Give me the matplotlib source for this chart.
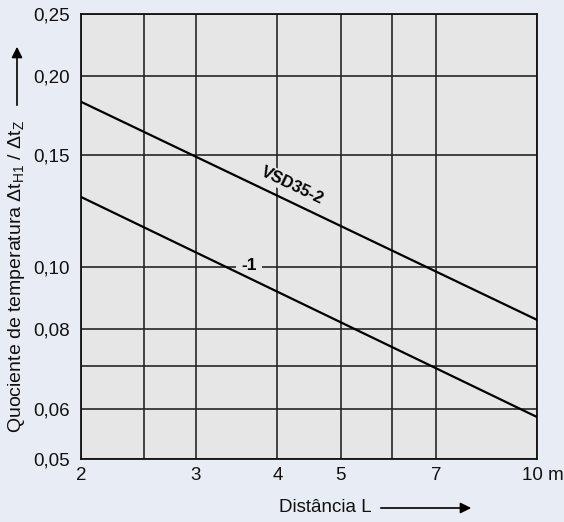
import numpy as np
import matplotlib
matplotlib.use("Agg")
import matplotlib.pyplot as plt
from matplotlib.ticker import FixedLocator, FixedFormatter, NullFormatter
from matplotlib.transforms import ScaledTranslation

plt.rcParams['font.family'] = ['Liberation Sans', 'DejaVu Sans']
plt.rcParams['mathtext.fontset'] = 'custom'
plt.rcParams['mathtext.rm'] = 'Liberation Sans'
plt.rcParams['mathtext.it'] = 'Liberation Sans'

# data (straight lines in log-log)
dist = [2, 10]
vsd35_2 = [0.182, 0.0827]
vsd35_1 = [0.129, 0.0582]

x_major = [2, 3, 4, 5, 7, 10]
x_labels = ['2', '3', '4', '5', '7', '10 m']
x_minor = [2.5, 6]
y_major = [0.05, 0.06, 0.08, 0.10, 0.15, 0.20, 0.25]
y_labels = ['0,05', '0,06', '0,08', '0,10', '0,15', '0,20', '0,25']
y_minor = [0.07]

bg = '#e8ecf4'
face = '#e6e6e7'
fs = 13.5

fig = plt.figure(figsize=(5.64, 5.22), dpi=100, facecolor=bg)
ax = fig.add_axes([81/564, 63/522, 456/564, 445/522], facecolor=face)

ax.set_xscale('log')
ax.set_yscale('log')
ax.set_xlim(2, 10)
ax.set_ylim(0.05, 0.25)

ax.xaxis.set_major_locator(FixedLocator(x_major))
ax.xaxis.set_major_formatter(FixedFormatter(x_labels))
ax.xaxis.set_minor_locator(FixedLocator(x_minor))
ax.xaxis.set_minor_formatter(NullFormatter())
ax.yaxis.set_major_locator(FixedLocator(y_major))
ax.yaxis.set_major_formatter(FixedFormatter(y_labels))
ax.yaxis.set_minor_locator(FixedLocator(y_minor))
ax.yaxis.set_minor_formatter(NullFormatter())

ax.tick_params(which='both', length=0, labelsize=fs, colors='#111111')
ax.tick_params(axis='x', pad=6)
ax.tick_params(axis='y', pad=8)
ax.grid(True, which='both', color='#262626', linewidth=1.2)
ax.set_axisbelow(True)
for s in ax.spines.values():
    s.set_color('#111111')
    s.set_linewidth(1.3)

# shift the "10 m" label so that "10" sits near its grid position
lbl = ax.get_xticklabels()[-1]
lbl.set_transform(lbl.get_transform() + ScaledTranslation(6/100, 0, fig.dpi_scale_trans))

ax.plot(dist, vsd35_2, color='black', lw=1.6, zorder=3)
ax.plot(dist, vsd35_1, color='black', lw=1.6, zorder=3)

# labels sit under the curves but over the grid
ax.text(4.22, 0.1345, 'VSD35-2', rotation=-25.6, ha='center', va='center',
        fontsize=12, fontweight='bold', rotation_mode='anchor', zorder=2,
        bbox=dict(facecolor=face, edgecolor='none', pad=1))
ax.text(3.62, 0.1005, '-1', ha='center', va='center', fontsize=12.5,
        fontweight='bold', zorder=2,
        bbox=dict(facecolor=face, edgecolor='none', pad=4))

fig.text(17/564, 1 - 276/522,
         r'Quociente de temperatura $\mathrm{\Delta t_{H1}}$ / $\mathrm{\Delta t_{Z}}$',
         rotation=90, ha='center', va='center', fontsize=14, color='#111111')
fig.patches.append(matplotlib.patches.FancyArrowPatch(
    (17/564, 1 - 108/522), (17/564, 1 - 44/522), transform=fig.transFigure,
    arrowstyle='-|>', mutation_scale=16, color='black', lw=1.2))

fig.text(325/564, 1 - 508/522, 'Distância L', ha='center', va='center',
         fontsize=fs, color='#111111')
fig.patches.append(matplotlib.patches.FancyArrowPatch(
    (378/564, 1 - 508/522), (474/564, 1 - 508/522), transform=fig.transFigure,
    arrowstyle='-|>', mutation_scale=16, color='black', lw=1.2))

fig.savefig('out.png', dpi=100, facecolor=bg)
